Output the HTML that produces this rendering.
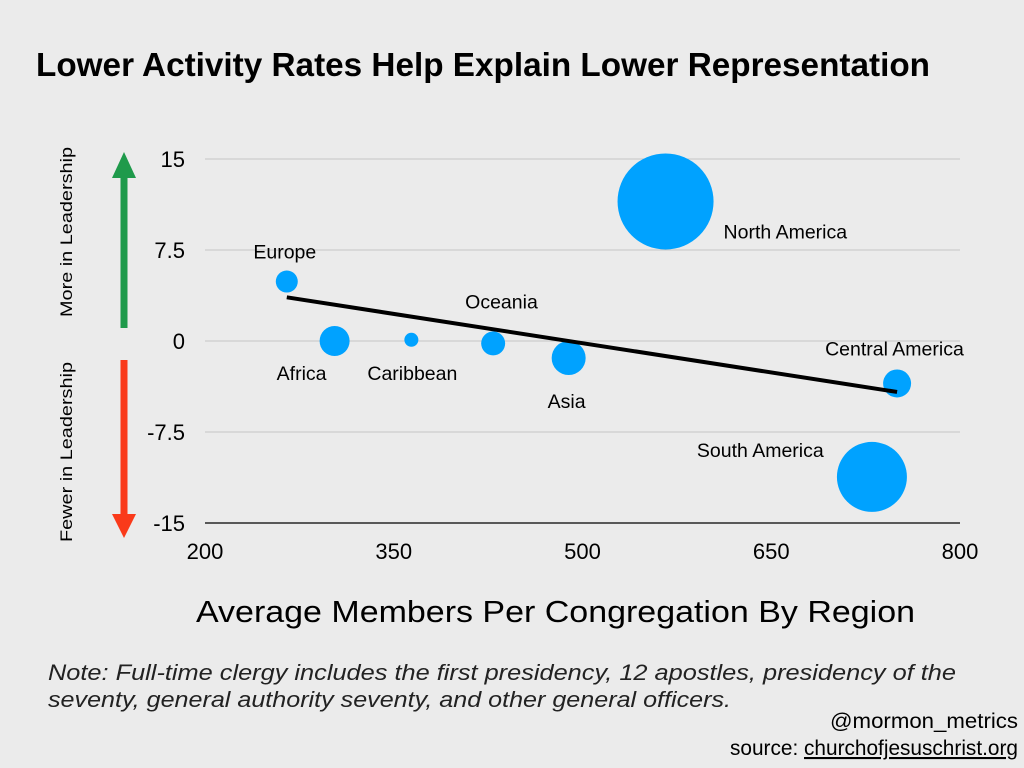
<!DOCTYPE html>
<html><head><meta charset="utf-8"><style>
body{margin:0;background:#ebebeb;}
svg{display:block;font-family:"Liberation Sans",sans-serif;}
</style></head><body>
<svg id="c" width="1024" height="768">
<rect width="1024" height="768" fill="#ebebeb"/>
<text x="36" y="76" font-size="33" font-weight="bold" fill="#000" textLength="894" lengthAdjust="spacingAndGlyphs">Lower Activity Rates Help Explain Lower Representation</text>
<g id="grid"></g>
<g id="marks"></g>
<line x1="124" y1="328" x2="124" y2="172" stroke="#1f9a4b" stroke-width="7"/>
<polygon points="112,178 136,178 124,152" fill="#1f9a4b"/>
<line x1="124" y1="360" x2="124" y2="518" stroke="#fa3a1a" stroke-width="7"/>
<polygon points="112,514 136,514 124,538" fill="#fa3a1a"/>
<text transform="translate(72,232) rotate(-90)" font-size="17" text-anchor="middle" textLength="170" lengthAdjust="spacingAndGlyphs">More in Leadership</text>
<text transform="translate(72,452) rotate(-90)" font-size="17" text-anchor="middle" textLength="180" lengthAdjust="spacingAndGlyphs">Fewer in Leadership</text>
<text x="196" y="622" font-size="31" textLength="719" lengthAdjust="spacingAndGlyphs">Average Members Per Congregation By Region</text>
<text x="48" y="680" font-size="22" font-style="italic" fill="#222" textLength="908" lengthAdjust="spacingAndGlyphs">Note: Full-time clergy includes the first presidency, 12 apostles, presidency of the</text>
<text x="48" y="707" font-size="22" font-style="italic" fill="#222" textLength="683" lengthAdjust="spacingAndGlyphs">seventy, general authority seventy, and other general officers.</text>
<text x="1018" y="728" font-size="21" text-anchor="end" textLength="188" lengthAdjust="spacingAndGlyphs">@mormon_metrics</text>
<text x="1018" y="755" font-size="21" text-anchor="end" textLength="288" lengthAdjust="spacingAndGlyphs">source: <tspan text-decoration="underline">churchofjesuschrist.org</tspan></text>
</svg>
<script>
const regions=["Europe","Africa","Caribbean","Oceania","Asia","North America","Central America","South America"];
const xVals=[265,303,364,429,489,566,750,730];
const yVals=[4.9,0,0.1,-0.2,-1.4,11.5,-3.5,-11.2];
const sizes=[121,225,49,144,289,2304,196,1225];
const xTicks=[200,350,500,650,800];
const yTicks=[15,7.5,0,-7.5,-15];
const trendX=[265,750];
const trendY=[3.6,-4.2];
const NS="http://www.w3.org/2000/svg";
const X=v=>205+(v-200)*(755/600);
const Y=v=>341-v*(364/30);
const R=s=>Math.sqrt(s);
function mk(t,a,p){const e=document.createElementNS(NS,t);for(const k in a)e.setAttribute(k,a[k]);p.appendChild(e);return e;}
const g=document.getElementById('grid'),m=document.getElementById('marks');
yTicks.forEach(t=>{
 const l=mk('line',{x1:205,x2:960,y1:Y(t),y2:Y(t),stroke:t===-15?'#000':'#c4c4c4','stroke-width':t===-15?1.2:1},g);
 
 
 const tx=mk('text',{x:185,y:Y(t)+8,'font-size':22,'text-anchor':'end'},g);tx.textContent=t;
 
 
});
xTicks.forEach(t=>{
 const tx=mk('text',{x:X(t),y:559,'font-size':22,'text-anchor':'middle'},g);tx.textContent=t;
 
 
});
const lblOff={"Europe":[-2,-23,'middle'],"Africa":[-33,39,'middle'],"Caribbean":[-44,40,'start'],"Oceania":[-28,-35,'start'],"Asia":[-21,50,'start'],"North America":[58,37,'start'],"Central America":[-72,-28,'start'],"South America":[-175,-20,'start']};
regions.forEach((r,i)=>{
 const c=mk('circle',{cx:X(xVals[i]),cy:Y(yVals[i]),r:R(sizes[i]),fill:'#00a2ff'},m);
 
 
 const o=lblOff[r];
 const t=mk('text',{x:X(xVals[i])+o[0],y:Y(yVals[i])+o[1],'font-size':19.5,'text-anchor':o[2]},m);t.textContent=r;
 
 
});
const tl=mk('line',{x1:X(trendX[0]),y1:Y(trendY[0]),x2:X(trendX[1]),y2:Y(trendY[1]),stroke:'#000','stroke-width':4},m);


</script>
</body></html>
